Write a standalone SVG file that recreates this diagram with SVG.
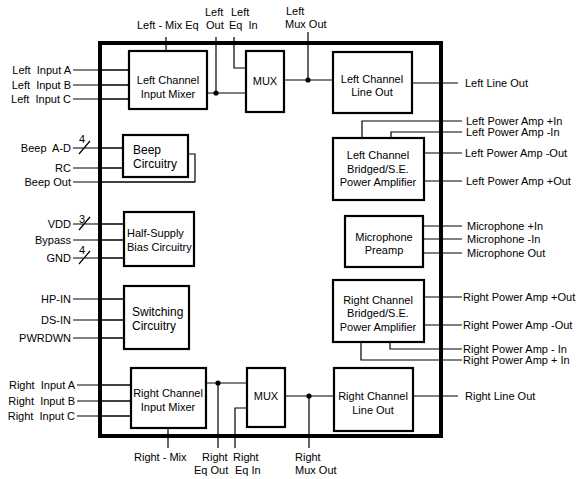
<svg xmlns="http://www.w3.org/2000/svg" width="577" height="479" viewBox="0 0 577 479">
<style>
text{font-family:"Liberation Sans",Arial,sans-serif;font-size:11px;fill:#000}
.big{font-size:12px}
.m{text-anchor:middle}
.e{text-anchor:end}
.box{fill:#fff;stroke:#000;stroke-width:2.2}
.ln{fill:none;stroke:#000;stroke-width:1.2}
</style>
<rect x="0" y="0" width="577" height="479" fill="#fff"/>
<g id="connectors">
<path class="ln" d="M73 70H130M73 85H130M73 99H130"/>
<path class="ln" d="M166 37V51M216 37V93M207 93H246M234 37V68H246"/>
<path class="ln" d="M284 80H333M308 32V80M412 83H458"/>
<path class="ln" d="M73 148H123M79 154L90 141M73 168H123M188 154H195V182H73"/>
<path class="ln" d="M73 224H124M79 230L90 217M73 240H124M73 258H124M79 264L90 251"/>
<path class="ln" d="M73 299H124M73 320H124M73 338H124"/>
<path class="ln" d="M362 138V121H462M391 138V132H462M424 153H462M424 181H462"/>
<path class="ln" d="M423 226H462M423 239H462M423 253H462"/>
<path class="ln" d="M424 297H462M424 325H462M390 342V349H462M361 342V360H462"/>
<path class="ln" d="M77 385H131M77 401H131M77 416H131"/>
<path class="ln" d="M168 428V448M206 383H247M218 383V448M247 408H235V448"/>
<path class="ln" d="M285 396H334M309 396V448M413 396H458"/>
<circle cx="216" cy="93" r="2.6"/>
<circle cx="308" cy="80" r="2.6"/>
<circle cx="218" cy="383" r="2.6"/>
<circle cx="309" cy="396" r="2.6"/>
</g>
<rect x="100" y="43" width="341" height="393" fill="none" stroke="#000" stroke-width="4"/>
<path class="ln" d="M100 70H130M100 85H130M100 99H130M100 148H123M100 168H123M100 182H195M100 224H124M100 240H124M100 258H124M100 299H124M100 320H124M100 338H124M100 385H131M100 401H131M100 416H131"/>
<g id="left-mixer"><rect class="box" x="129" y="51" width="78" height="58"/><text class="m" x="168" y="84">Left Channel</text><text class="m" x="168" y="98">Input Mixer</text></g>
<g id="left-mux"><rect class="box" x="246" y="51" width="38" height="61"/><text class="m" x="265" y="85">MUX</text></g>
<g id="left-line-out"><rect class="box" x="333" y="52" width="79" height="61"/><text class="m" x="372" y="83">Left Channel</text><text class="m" x="372" y="96">Line Out</text></g>
<g id="beep"><rect class="box" x="123" y="135" width="65" height="42"/><text class="big" x="133" y="154">Beep</text><text class="big" x="133" y="168">Circuitry</text></g>
<g id="bias"><rect class="box" x="124" y="212" width="70" height="54"/><text x="127" y="237">Half-Supply</text><text x="127" y="251">Bias Circuitry</text></g>
<g id="switching"><rect class="box" x="124" y="286" width="65" height="63"/><text class="big" x="132" y="316">Switching</text><text class="big" x="132" y="330">Circuitry</text></g>
<g id="left-amp"><rect class="box" x="333" y="138" width="91" height="62"/><text class="m" x="378" y="159">Left Channel</text><text class="m" x="378" y="173">Bridged/S.E.</text><text class="m" x="378" y="186">Power Amplifier</text></g>
<g id="mic"><rect class="box" x="345" y="216" width="78" height="51"/><text class="m" x="384" y="241">Microphone</text><text class="m" x="384" y="254">Preamp</text></g>
<g id="right-amp"><rect class="box" x="333" y="280" width="91" height="62"/><text class="m" x="378" y="304">Right Channel</text><text class="m" x="378" y="317">Bridged/S.E.</text><text class="m" x="378" y="331">Power Amplifier</text></g>
<g id="right-mixer"><rect class="box" x="131" y="368" width="75" height="60"/><text class="m" x="168" y="397">Right Channel</text><text class="m" x="168" y="411">Input Mixer</text></g>
<g id="right-mux"><rect class="box" x="247" y="368" width="38" height="59"/><text class="m" x="266" y="400">MUX</text></g>
<g id="right-line-out"><rect class="box" x="334" y="368" width="79" height="63"/><text class="m" x="373" y="400">Right Channel</text><text class="m" x="373" y="414">Line Out</text></g>
<g id="labels">
<text class="e" x="71" y="74" xml:space="preserve">Left  Input A</text>
<text class="e" x="71" y="89" xml:space="preserve">Left  Input B</text>
<text class="e" x="71" y="103" xml:space="preserve">Left  Input C</text>
<text class="e" x="71" y="152" xml:space="preserve">Beep  A-D</text>
<text x="79" y="143">4</text>
<text class="e" x="71" y="172">RC</text>
<text class="e" x="71" y="186">Beep Out</text>
<text class="e" x="71" y="228">VDD</text>
<text x="79" y="223">3</text>
<text class="e" x="71" y="244">Bypass</text>
<text class="e" x="71" y="262">GND</text>
<text x="79" y="254">4</text>
<text class="e" x="71" y="303">HP-IN</text>
<text class="e" x="71" y="324">DS-IN</text>
<text class="e" x="71" y="342">PWRDWN</text>
<text class="e" x="75" y="389" xml:space="preserve">Right  Input A</text>
<text class="e" x="75" y="405" xml:space="preserve">Right  Input B</text>
<text class="e" x="75" y="420" xml:space="preserve">Right  Input C</text>
<text x="137" y="29">Left - Mix Eq</text>
<text x="205" y="16">Left</text>
<text x="206" y="29">Out</text>
<text x="231" y="16">Left</text>
<text x="229" y="29" xml:space="preserve">Eq  In</text>
<text x="286" y="15">Left</text>
<text x="285" y="28">Mux Out</text>
<text x="465" y="87">Left Line Out</text>
<text x="466" y="125">Left Power Amp +In</text>
<text x="466" y="136">Left Power Amp -In</text>
<text x="465" y="157">Left Power Amp -Out</text>
<text x="466" y="185">Left Power Amp +Out</text>
<text x="467" y="230">Microphone +In</text>
<text x="467" y="243">Microphone -In</text>
<text x="467" y="257">Microphone Out</text>
<text x="463" y="301">Right Power Amp +Out</text>
<text x="463" y="329">Right Power Amp -Out</text>
<text x="463" y="353">Right Power Amp - In</text>
<text x="463" y="364">Right Power Amp + In</text>
<text x="465" y="400">Right Line Out</text>
<text x="134" y="461">Right - Mix</text>
<text x="202" y="461">Right</text>
<text x="194" y="474">Eq Out</text>
<text x="233" y="461">Right</text>
<text x="235" y="474">Eq In</text>
<text x="295" y="461">Right</text>
<text x="295" y="474">Mux Out</text>
</g>
</svg>
